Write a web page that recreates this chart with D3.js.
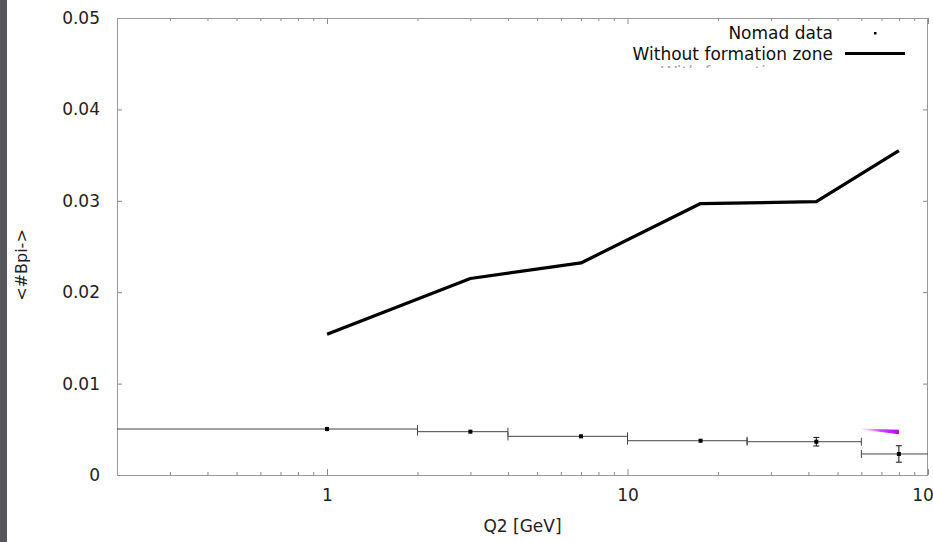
<!DOCTYPE html>
<html><head><meta charset="utf-8">
<script src="https://cdn.jsdelivr.net/npm/d3@7"></script>
<style>html,body{margin:0;padding:0;background:#fff;overflow:hidden}svg{display:block}text{font-family:"DejaVu Sans",sans-serif}</style>
</head><body>
<script>
// ---- data ----
const yTicks = [0, 0.01, 0.02, 0.03, 0.04, 0.05];
const yTickLabels = ["0", "0.01", "0.02", "0.03", "0.04", "0.05"];
const xMajorTicks = [1, 10, 100];
const xTickLabels = ["1", "10", "100"];
// Nomad data
const nomadX = [1, 3, 7, 17.5, 42.5, 80];
const nomadY = [0.00503, 0.00474, 0.00423, 0.00375, 0.00364, 0.0023];
const nomadYErr = [0.00025, 0.0002, 0.0002, 0.0002, 0.00047, 0.0009];
const nomadXLow = [0.1, 2, 4, 10, 25, 60];
const nomadXHigh = [2, 4, 10, 25, 60, 130];
// Without formation zone
const wfzX = [1, 3, 7, 17.5, 42.5, 80];
const wfzY = [0.0154, 0.0215, 0.0232, 0.0297, 0.0299, 0.0355];
// With formation zone (mostly hidden)
const fzX = [60, 80];
const fzY = [0.00503, 0.0047];
const fzW = [0.5, 2.2];
const legendLabels = ["Nomad data", "Without formation zone", "With formation zone"];

// ---- layout ----
const W = 933, H = 542;
const L = 117, R = 928, T = 18, B = 475;
const svg = d3.select("body").append("svg").attr("width", W).attr("height", H);
svg.append("rect").attr("x",0).attr("y",0).attr("width",W).attr("height",H).attr("fill","#fff");
svg.append("rect").attr("x",0).attr("y",0).attr("width",7).attr("height",H).attr("fill","#58585c");

const x = d3.scaleLog().domain([0.2, 100]).range([L, R]);
const y = d3.scaleLinear().domain([0, 0.05]).range([B, T]);

svg.append("defs").append("clipPath").attr("id","clip")
  .append("rect").attr("x",L).attr("y",T).attr("width",R-L).attr("height",B-T);

// axes
const minor = [];
[0.1, 1, 10].forEach(d => { for (let k=2;k<=9;k++){ const v=d*k; if (v>=0.2 && v<100) minor.push(v);} });
const xBot = d3.axisBottom(x).tickValues(xMajorTicks).tickFormat((d,i)=>xTickLabels[i]).tickSizeInner(-6).tickSizeOuter(0).tickPadding(14);
const gxb = svg.append("g").attr("transform",`translate(0,${B})`).call(xBot);
const gxbm = svg.append("g").attr("transform",`translate(0,${B})`).call(d3.axisBottom(x).tickValues(minor).tickFormat("").tickSizeInner(-3).tickSizeOuter(0));
const gxt = svg.append("g").attr("transform",`translate(0,${T})`).call(d3.axisTop(x).tickValues(xMajorTicks).tickFormat("").tickSizeInner(-6).tickSizeOuter(0));
const gxtm = svg.append("g").attr("transform",`translate(0,${T})`).call(d3.axisTop(x).tickValues(minor).tickFormat("").tickSizeInner(-3).tickSizeOuter(0));
const gyl = svg.append("g").attr("transform",`translate(${L},0)`).call(d3.axisLeft(y).tickValues(yTicks).tickFormat((d,i)=>yTickLabels[i]).tickSizeInner(-5).tickSizeOuter(0).tickPadding(17));
const gyr = svg.append("g").attr("transform",`translate(${R},0)`).call(d3.axisRight(y).tickValues(yTicks).tickFormat("").tickSizeInner(-5).tickSizeOuter(0));
[gxb,gxbm,gxt,gxtm,gyl,gyr].forEach(g=>{
  g.select(".domain").remove();
  g.selectAll("line").attr("stroke","#888");
  g.selectAll("text").attr("font-size",17).attr("fill","#222").attr("font-family","DejaVu Sans, sans-serif");
});
// frame
svg.append("rect").attr("x",L+0.5).attr("y",T+0.5).attr("width",R-L-1).attr("height",B-T).attr("fill","none").attr("stroke","#999");

// titles
svg.append("text").attr("x",(L+R)/2).attr("y",532).attr("text-anchor","middle").attr("font-size",17).attr("fill","#222").text("Q2 [GeV]");
svg.append("text").attr("transform","translate(27,265) rotate(-90)").attr("text-anchor","middle").attr("font-size",16).attr("fill","#222").text("<#Bpi->");

const plot = svg.append("g").attr("clip-path","url(#clip)");

// black line
plot.append("path").datum(wfzX.map((d,i)=>[d,wfzY[i]]))
  .attr("d", d3.line().x(d=>x(d[0])).y(d=>y(d[1])))
  .attr("fill","none").attr("stroke","#000").attr("stroke-width",3.2).attr("stroke-linejoin","round");

// nomad error bars
const eg = plot.append("g").attr("stroke","#444").attr("stroke-width",1);
nomadX.forEach((xv,i)=>{
  const yy = y(nomadY[i]);
  eg.append("line").attr("x1",x(nomadXLow[i])).attr("x2",x(nomadXHigh[i])).attr("y1",yy).attr("y2",yy);
  [nomadXLow[i], nomadXHigh[i]].forEach(v=>{
    eg.append("line").attr("x1",x(v)).attr("x2",x(v)).attr("y1",yy-4).attr("y2",yy+4);
  });
  const y0 = y(nomadY[i]-nomadYErr[i]), y1 = y(nomadY[i]+nomadYErr[i]);
  eg.append("line").attr("x1",x(xv)).attr("x2",x(xv)).attr("y1",y0).attr("y2",y1).attr("stroke","#111");
  if (nomadYErr[i] > 0.0003) {
    [y0,y1].forEach(v=>eg.append("line").attr("x1",x(xv)-3).attr("x2",x(xv)+3).attr("y1",v).attr("y2",v).attr("stroke","#111"));
  }
  plot.append("rect").attr("x",x(xv)-2).attr("y",yy-2).attr("width",4).attr("height",4).attr("fill","#000");
});

// magenta wedge (with formation zone)
const grad = svg.select("defs").append("linearGradient").attr("id","mg").attr("x1","0").attr("x2","1").attr("y1","0").attr("y2","0");
grad.append("stop").attr("offset","0").attr("stop-color","#d070ff").attr("stop-opacity",0.15);
grad.append("stop").attr("offset","0.5").attr("stop-color","#c020ff").attr("stop-opacity",0.8);
grad.append("stop").attr("offset","1").attr("stop-color","#b400ff").attr("stop-opacity",1);
const wedge = fzX.map((d,i)=>[x(d), y(fzY[i])-fzW[i]]).concat(fzX.map((d,i)=>[x(d), y(fzY[i])+fzW[i]]).reverse());
plot.append("path").attr("d", d3.line()(wedge) + "Z").attr("fill","url(#mg)");

// legend
const lx = 833;
const lg = svg.append("g");
lg.append("text").attr("x",lx).attr("y",33).attr("dy","0.35em").attr("text-anchor","end").attr("font-size",17).attr("fill","#111").text(legendLabels[0]);
lg.append("rect").attr("x",874).attr("y",32).attr("width",2.5).attr("height",2.5).attr("fill","#000");
lg.append("text").attr("x",lx).attr("y",54).attr("dy","0.35em").attr("text-anchor","end").attr("font-size",17).attr("fill","#111").text(legendLabels[1]);
lg.append("line").attr("x1",845).attr("x2",905).attr("y1",53.5).attr("y2",53.5).attr("stroke","#000").attr("stroke-width",3.2);
svg.select("defs").append("clipPath").attr("id","lclip").append("rect").attr("x",600).attr("y",63).attr("width",300).attr("height",5);
lg.append("text").attr("clip-path","url(#lclip)").attr("x",lx).attr("y",73).attr("dy","0.35em").attr("text-anchor","end").attr("font-size",17).attr("fill","#aaa").text(legendLabels[2]);
</script>
</body></html>
